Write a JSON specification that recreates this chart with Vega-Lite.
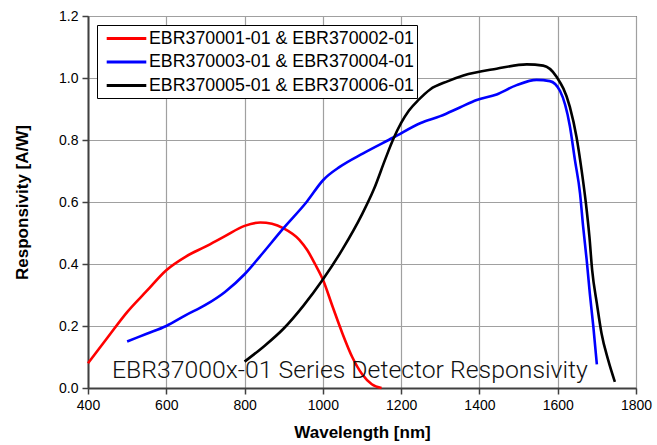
{
  "$schema": "https://vega.github.io/schema/vega-lite/v6.json",
  "width": 548,
  "height": 372,
  "autosize": "none",
  "padding": {"left": 88, "top": 16, "right": 21, "bottom": 57},
  "background": "white",
  "config": {
    "view": {"stroke": "black", "strokeWidth": 1},
    "font": "Liberation Sans"
  },
  "layer": [
    {
      "data": {
        "values": [
          {"series": "EBR370001-01 & EBR370002-01", "wavelength": 400, "resp": 0.08},
          {"series": "EBR370001-01 & EBR370002-01", "wavelength": 450, "resp": 0.163},
          {"series": "EBR370001-01 & EBR370002-01", "wavelength": 500, "resp": 0.245},
          {"series": "EBR370001-01 & EBR370002-01", "wavelength": 550, "resp": 0.313},
          {"series": "EBR370001-01 & EBR370002-01", "wavelength": 600, "resp": 0.38},
          {"series": "EBR370001-01 & EBR370002-01", "wavelength": 650, "resp": 0.424},
          {"series": "EBR370001-01 & EBR370002-01", "wavelength": 700, "resp": 0.456},
          {"series": "EBR370001-01 & EBR370002-01", "wavelength": 750, "resp": 0.49},
          {"series": "EBR370001-01 & EBR370002-01", "wavelength": 800, "resp": 0.523},
          {"series": "EBR370001-01 & EBR370002-01", "wavelength": 840, "resp": 0.534},
          {"series": "EBR370001-01 & EBR370002-01", "wavelength": 870, "resp": 0.53},
          {"series": "EBR370001-01 & EBR370002-01", "wavelength": 900, "resp": 0.515},
          {"series": "EBR370001-01 & EBR370002-01", "wavelength": 940, "resp": 0.478},
          {"series": "EBR370001-01 & EBR370002-01", "wavelength": 960, "resp": 0.445},
          {"series": "EBR370001-01 & EBR370002-01", "wavelength": 980, "resp": 0.4},
          {"series": "EBR370001-01 & EBR370002-01", "wavelength": 1000, "resp": 0.35},
          {"series": "EBR370001-01 & EBR370002-01", "wavelength": 1025, "resp": 0.262},
          {"series": "EBR370001-01 & EBR370002-01", "wavelength": 1050, "resp": 0.176},
          {"series": "EBR370001-01 & EBR370002-01", "wavelength": 1075, "resp": 0.1},
          {"series": "EBR370001-01 & EBR370002-01", "wavelength": 1100, "resp": 0.045},
          {"series": "EBR370001-01 & EBR370002-01", "wavelength": 1125, "resp": 0.012},
          {"series": "EBR370001-01 & EBR370002-01", "wavelength": 1150, "resp": 0.0},
          {"series": "EBR370003-01 & EBR370004-01", "wavelength": 500, "resp": 0.15},
          {"series": "EBR370003-01 & EBR370004-01", "wavelength": 550, "resp": 0.175},
          {"series": "EBR370003-01 & EBR370004-01", "wavelength": 600, "resp": 0.2},
          {"series": "EBR370003-01 & EBR370004-01", "wavelength": 650, "resp": 0.235},
          {"series": "EBR370003-01 & EBR370004-01", "wavelength": 700, "resp": 0.268},
          {"series": "EBR370003-01 & EBR370004-01", "wavelength": 750, "resp": 0.31},
          {"series": "EBR370003-01 & EBR370004-01", "wavelength": 800, "resp": 0.367},
          {"series": "EBR370003-01 & EBR370004-01", "wavelength": 839, "resp": 0.424},
          {"series": "EBR370003-01 & EBR370004-01", "wavelength": 899, "resp": 0.515},
          {"series": "EBR370003-01 & EBR370004-01", "wavelength": 959, "resp": 0.601},
          {"series": "EBR370003-01 & EBR370004-01", "wavelength": 1001, "resp": 0.671},
          {"series": "EBR370003-01 & EBR370004-01", "wavelength": 1044, "resp": 0.714},
          {"series": "EBR370003-01 & EBR370004-01", "wavelength": 1103, "resp": 0.757},
          {"series": "EBR370003-01 & EBR370004-01", "wavelength": 1180, "resp": 0.808},
          {"series": "EBR370003-01 & EBR370004-01", "wavelength": 1250, "resp": 0.855},
          {"series": "EBR370003-01 & EBR370004-01", "wavelength": 1300, "resp": 0.877},
          {"series": "EBR370003-01 & EBR370004-01", "wavelength": 1350, "resp": 0.905},
          {"series": "EBR370003-01 & EBR370004-01", "wavelength": 1393, "resp": 0.929},
          {"series": "EBR370003-01 & EBR370004-01", "wavelength": 1444, "resp": 0.947},
          {"series": "EBR370003-01 & EBR370004-01", "wavelength": 1495, "resp": 0.977},
          {"series": "EBR370003-01 & EBR370004-01", "wavelength": 1546, "resp": 0.994},
          {"series": "EBR370003-01 & EBR370004-01", "wavelength": 1580, "resp": 0.99},
          {"series": "EBR370003-01 & EBR370004-01", "wavelength": 1606, "resp": 0.958},
          {"series": "EBR370003-01 & EBR370004-01", "wavelength": 1631, "resp": 0.845},
          {"series": "EBR370003-01 & EBR370004-01", "wavelength": 1644, "resp": 0.735},
          {"series": "EBR370003-01 & EBR370004-01", "wavelength": 1657, "resp": 0.628},
          {"series": "EBR370003-01 & EBR370004-01", "wavelength": 1665, "resp": 0.52},
          {"series": "EBR370003-01 & EBR370004-01", "wavelength": 1674, "resp": 0.413},
          {"series": "EBR370003-01 & EBR370004-01", "wavelength": 1682, "resp": 0.305},
          {"series": "EBR370003-01 & EBR370004-01", "wavelength": 1691, "resp": 0.198},
          {"series": "EBR370003-01 & EBR370004-01", "wavelength": 1700, "resp": 0.076},
          {"series": "EBR370005-01 & EBR370006-01", "wavelength": 800, "resp": 0.085},
          {"series": "EBR370005-01 & EBR370006-01", "wavelength": 850, "resp": 0.135},
          {"series": "EBR370005-01 & EBR370006-01", "wavelength": 900, "resp": 0.192},
          {"series": "EBR370005-01 & EBR370006-01", "wavelength": 950, "resp": 0.265},
          {"series": "EBR370005-01 & EBR370006-01", "wavelength": 1000, "resp": 0.35},
          {"series": "EBR370005-01 & EBR370006-01", "wavelength": 1050, "resp": 0.447},
          {"series": "EBR370005-01 & EBR370006-01", "wavelength": 1100, "resp": 0.56},
          {"series": "EBR370005-01 & EBR370006-01", "wavelength": 1130, "resp": 0.64},
          {"series": "EBR370005-01 & EBR370006-01", "wavelength": 1160, "resp": 0.74},
          {"series": "EBR370005-01 & EBR370006-01", "wavelength": 1180, "resp": 0.803},
          {"series": "EBR370005-01 & EBR370006-01", "wavelength": 1200, "resp": 0.855},
          {"series": "EBR370005-01 & EBR370006-01", "wavelength": 1220, "resp": 0.895},
          {"series": "EBR370005-01 & EBR370006-01", "wavelength": 1245, "resp": 0.93},
          {"series": "EBR370005-01 & EBR370006-01", "wavelength": 1274, "resp": 0.963},
          {"series": "EBR370005-01 & EBR370006-01", "wavelength": 1320, "resp": 0.99},
          {"series": "EBR370005-01 & EBR370006-01", "wavelength": 1359, "resp": 1.008},
          {"series": "EBR370005-01 & EBR370006-01", "wavelength": 1444, "resp": 1.03},
          {"series": "EBR370005-01 & EBR370006-01", "wavelength": 1521, "resp": 1.044},
          {"series": "EBR370005-01 & EBR370006-01", "wavelength": 1563, "resp": 1.04},
          {"series": "EBR370005-01 & EBR370006-01", "wavelength": 1597, "resp": 1.004},
          {"series": "EBR370005-01 & EBR370006-01", "wavelength": 1631, "resp": 0.907},
          {"series": "EBR370005-01 & EBR370006-01", "wavelength": 1648, "resp": 0.81},
          {"series": "EBR370005-01 & EBR370006-01", "wavelength": 1661, "resp": 0.703},
          {"series": "EBR370005-01 & EBR370006-01", "wavelength": 1672, "resp": 0.596},
          {"series": "EBR370005-01 & EBR370006-01", "wavelength": 1681, "resp": 0.488},
          {"series": "EBR370005-01 & EBR370006-01", "wavelength": 1688, "resp": 0.38},
          {"series": "EBR370005-01 & EBR370006-01", "wavelength": 1700, "resp": 0.273},
          {"series": "EBR370005-01 & EBR370006-01", "wavelength": 1712, "resp": 0.176},
          {"series": "EBR370005-01 & EBR370006-01", "wavelength": 1729, "resp": 0.09},
          {"series": "EBR370005-01 & EBR370006-01", "wavelength": 1746, "resp": 0.02}
        ]
      },
      "mark": {"type": "line", "interpolate": "monotone", "strokeWidth": 2.6},
      "encoding": {
        "x": {
          "field": "wavelength",
          "type": "quantitative",
          "scale": {"domain": [400, 1800], "nice": false, "zero": false},
          "axis": {
            "title": "Wavelength [nm]",
            "values": [400, 500, 600, 700, 800, 900, 1000, 1100, 1200, 1300, 1400, 1500, 1600, 1700, 1800],
            "labelExpr": "datum.value % 200 == 0 ? datum.label : ''",
            "format": "d",
            "labelFlush": false,
            "labelOverlap": false,
            "labelFontSize": 14,
            "labelColor": "black",
            "labelPadding": 4,
            "titleFontSize": 17,
            "titleFontWeight": "bold",
            "titleColor": "black",
            "titlePadding": 12,
            "domainColor": "#404040",
            "domainWidth": 2,
            "tickColor": "#404040",
            "tickWidth": 1.5,
            "tickSize": {"condition": {"test": "datum.value % 200 == 0", "value": 6}, "value": 3.5},
            "grid": true,
            "gridColor": {"condition": {"test": "datum.value % 200 == 0", "value": "#a0a0a0"}, "value": "#d0d0d0"},
            "gridDash": {"condition": {"test": "datum.value % 200 == 0", "value": []}, "value": [1, 3]},
            "gridWidth": {"condition": {"test": "datum.value % 200 == 0", "value": 1.2}, "value": 1}
          }
        },
        "y": {
          "field": "resp",
          "type": "quantitative",
          "scale": {"domain": [0, 1.2], "nice": false},
          "axis": {
            "title": "Responsivity [A/W]",
            "values": [0, 0.1, 0.2, 0.3, 0.4, 0.5, 0.6, 0.7, 0.8, 0.9, 1.0, 1.1, 1.2],
            "format": ".1f",
            "labelExpr": "round(datum.value * 10) % 2 == 0 ? datum.label : ''",
            "labelFlush": false,
            "labelOverlap": false,
            "labelFontSize": 14,
            "labelColor": "black",
            "labelPadding": 4,
            "titleFontSize": 17,
            "titleFontWeight": "bold",
            "titleColor": "black",
            "titlePadding": 27,
            "domainColor": "#404040",
            "domainWidth": 2,
            "tickColor": "#404040",
            "tickWidth": 1.5,
            "tickSize": {"condition": {"test": "round(datum.value * 10) % 2 == 0", "value": 6}, "value": 3.5},
            "grid": true,
            "gridColor": {"condition": {"test": "round(datum.value * 10) % 2 == 0", "value": "#a0a0a0"}, "value": "#d0d0d0"},
            "gridDash": {"condition": {"test": "round(datum.value * 10) % 2 == 0", "value": []}, "value": [1, 3]},
            "gridWidth": {"condition": {"test": "round(datum.value * 10) % 2 == 0", "value": 1.2}, "value": 1}
          }
        },
        "color": {
          "field": "series",
          "type": "nominal",
          "scale": {
            "domain": ["EBR370001-01 & EBR370002-01", "EBR370003-01 & EBR370004-01", "EBR370005-01 & EBR370006-01"],
            "range": ["#ff0000", "#0000ff", "#000000"]
          },
          "legend": {
            "title": null,
            "orient": "top-left",
            "offset": 9,
            "fillColor": "white",
            "strokeColor": "black",
            "padding": 3,
            "cornerRadius": 0,
            "labelFontSize": 17.8,
            "labelColor": "black",
            "labelLimit": 400,
            "labelOffset": 12,
            "symbolType": "M-2.2,0H2.2",
            "symbolSize": 324,
            "symbolOffset": 16,
            "symbolStrokeWidth": 3,
            "rowPadding": 3.5
          }
        }
      }
    },
    {
      "data": {"values": [{"label": "EBR37000x-01 Series Detector Responsivity"}]},
      "mark": {"type": "text", "font": "Roboto", "fontSize": 24.8, "fontWeight": 300, "align": "center", "baseline": "alphabetic", "color": "#111111"},
      "encoding": {
        "x": {"datum": 1069},
        "y": {"datum": 0.031},
        "text": {"field": "label", "type": "nominal"}
      }
    }
  ]
}
